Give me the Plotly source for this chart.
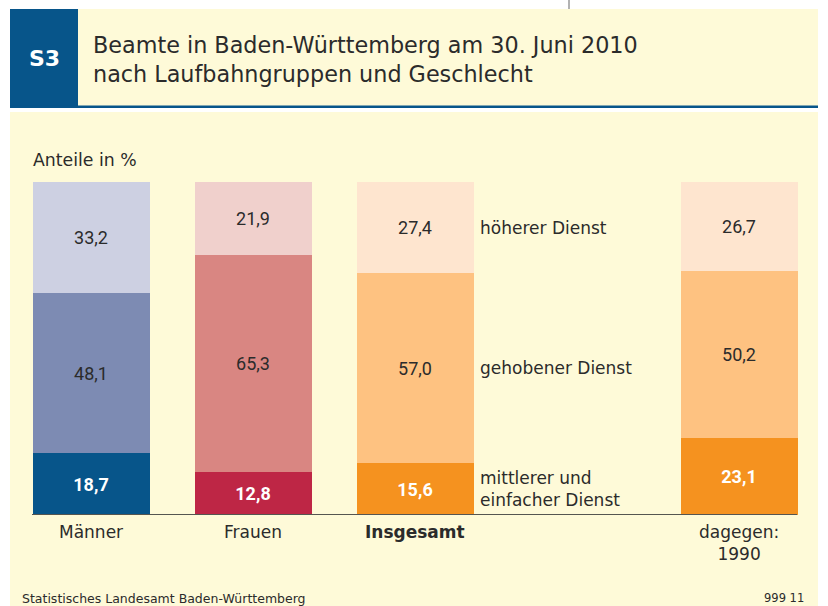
import plotly.graph_objects as go

# ---- data ----
categories = ["Männer", "Frauen", "Insgesamt", "dagegen:<br>1990"]
cat_pos = [0, 1, 2, 4]
mittlerer = [18.7, 12.8, 15.6, 23.1]
gehobener = [48.1, 65.3, 57.0, 50.2]
hoeherer = [33.2, 21.9, 27.4, 26.7]
series_names = ["mittlerer und<br>einfacher Dienst", "gehobener Dienst", "höherer Dienst"]

# colours per bar (dark, mid, light)
col_dark = ["#07558A", "#BE2645", "#F5921F", "#F5921F"]
col_mid = ["#7D8BB3", "#D98682", "#FEC281", "#FEC281"]
col_light = ["#CDD0E2", "#F0D0CC", "#FEE5CF", "#FEE5CF"]

W, H = 828, 606
BG = "#FEFAD8"
FONT = "DejaVu Sans"
NUMFONT = "Roboto"
TXT = "#2b2b2b"
SLOT = 162
BAR_W = 117 / SLOT


def fmt(v):
    return f"{v:.1f}".replace(".", ",")


def px_x(p):
    return p / W


def px_y(p):
    return 1 - p / H


fig = go.Figure()

for vals, cols, tcol, bold in [
    (mittlerer, col_dark, "white", True),
    (gehobener, col_mid, TXT, False),
    (hoeherer, col_light, TXT, False),
]:
    fig.add_trace(go.Bar(
        x=cat_pos, y=vals, width=BAR_W,
        marker=dict(color=cols, line=dict(width=0)),
        text=[(f"<b>{fmt(v)}</b>" if bold else fmt(v)) for v in vals],
        textposition="inside", insidetextanchor="middle", textangle=0,
        textfont=dict(family=NUMFONT, size=18, color=tcol),
        hoverinfo="skip", showlegend=False,
    ))

x0px = 90.5 - SLOT / 2
fig.update_layout(
    barmode="stack",
    width=W, height=H,
    margin=dict(l=0, r=0, t=0, b=0),
    paper_bgcolor="white",
    plot_bgcolor="rgba(0,0,0,0)",
    bargap=0,
    xaxis=dict(range=[-0.5, 4.5], domain=[px_x(x0px), px_x(x0px + 5 * SLOT)],
               showgrid=False, zeroline=False, showticklabels=False, showline=False),
    yaxis=dict(range=[0, 100], domain=[px_y(515), px_y(182)],
               showgrid=False, zeroline=False, showticklabels=False, showline=False),
    font=dict(family=FONT, color=TXT),
)

shapes = [
    dict(type="rect", xref="paper", yref="paper", x0=px_x(10), x1=px_x(818),
         y0=0, y1=px_y(112), fillcolor=BG, line=dict(width=0), layer="below"),
    dict(type="rect", xref="paper", yref="paper", x0=px_x(10), x1=px_x(818),
         y0=px_y(106), y1=px_y(9), fillcolor=BG, line=dict(width=0), layer="below"),
    dict(type="rect", xref="paper", yref="paper", x0=px_x(10), x1=px_x(78),
         y0=px_y(107.5), y1=px_y(9), fillcolor="#07558A", line=dict(width=0), layer="below"),
    dict(type="line", xref="paper", yref="paper", x0=px_x(10), x1=px_x(818),
         y0=px_y(106.8), y1=px_y(106.8), line=dict(color="#07558A", width=2.5)),
    dict(type="line", xref="paper", yref="paper", x0=px_x(569), x1=px_x(569),
         y0=px_y(0), y1=px_y(9), line=dict(color="#999999", width=1.5)),
    dict(type="line", xref="x", yref="y", x0=cat_pos[0] - BAR_W / 2, x1=cat_pos[-1] + BAR_W / 2,
         y0=0, y1=0, line=dict(color="#555550", width=2)),
]
fig.update_layout(shapes=shapes)

ann = []
ann.append(dict(text="<b>S3</b>", xref="paper", yref="paper", x=px_x(44), y=px_y(58),
                showarrow=False, font=dict(family=FONT, size=22, color="white"),
                xanchor="center", yanchor="middle"))
ann.append(dict(text="Beamte in Baden-Württemberg am 30. Juni 2010<br>nach Laufbahngruppen und Geschlecht",
                xref="paper", yref="paper", x=px_x(91), y=px_y(60), showarrow=False,
                align="left", xanchor="left", yanchor="middle",
                font=dict(family=FONT, size=22.3, color=TXT)))
ann.append(dict(text="Anteile in %", xref="paper", yref="paper", x=px_x(31), y=px_y(160),
                showarrow=False, xanchor="left", yanchor="middle",
                font=dict(family=FONT, size=17.3, color=TXT)))
for c, p in zip(categories, cat_pos):
    txt = f"<b>{c}</b>" if c == "Insgesamt" else c
    ann.append(dict(text=txt, x=p, xref="x", yref="paper", y=px_y(520),
                    showarrow=False, xanchor="center", yanchor="top",
                    font=dict(family=FONT, size=17, color=TXT)))
idx = cat_pos.index(2)
cum = 0
for name, vals in zip(series_names, [mittlerer, gehobener, hoeherer]):
    mid = cum + vals[idx] / 2
    cum += vals[idx]
    ann.append(dict(text=name, x=cat_pos[idx] + BAR_W / 2 + 0.03, xref="x", yref="y", y=mid,
                    showarrow=False, xanchor="left", yanchor="middle", align="left",
                    font=dict(family=FONT, size=17, color=TXT)))
ann.append(dict(text="Statistisches Landesamt Baden-Württemberg", xref="paper", yref="paper",
                x=px_x(20), y=px_y(598), showarrow=False, xanchor="left", yanchor="middle",
                font=dict(family=FONT, size=12.5, color=TXT)))
ann.append(dict(text="999 11", xref="paper", yref="paper",
                x=px_x(806), y=px_y(598), showarrow=False, xanchor="right", yanchor="middle",
                font=dict(family=FONT, size=11.5, color=TXT)))
fig.update_layout(annotations=ann)

fig.write_html("out.html")
